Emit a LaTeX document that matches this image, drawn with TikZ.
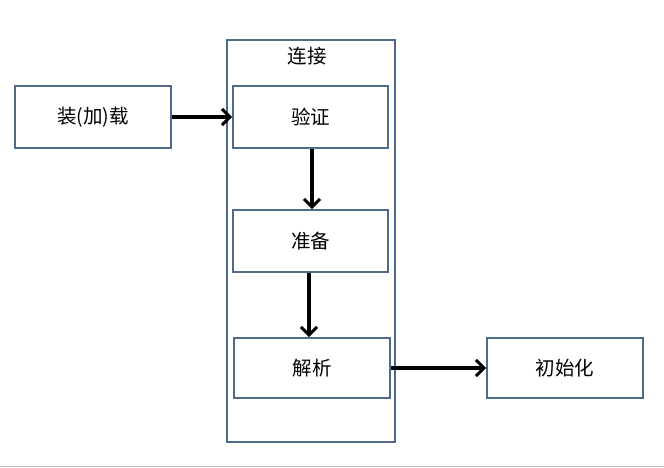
\documentclass[tikz,border=0pt]{standalone}
\usepackage{fontspec}
\setmainfont{Noto Sans CJK SC}
\usetikzlibrary{arrows.meta}
\definecolor{boxline}{HTML}{4F6B8C}
\begin{document}
\begin{tikzpicture}[x=1pt, y=-1pt,
    box/.style={draw=boxline, line width=1.8pt, minimum width=156pt, minimum height=62pt, inner sep=0pt, font=\fontsize{19.5}{22}\selectfont},
    flow/.style={-{Straight Barb[length=8pt, width=16pt, line width=3pt]}, line width=3.4pt}]
  \useasboundingbox (0, 0) rectangle (664, 468);
  \node[draw=boxline, line width=1.8pt, minimum width=168pt, minimum height=402pt] (link) at (311, 241) {};
  \node[font=\fontsize{19.5}{22}\selectfont] (linkname) at (307, 56) {连接};
  \node[box] (load) at (93, 117) {装(加)载};
  \node[box, minimum width=155pt] (verify) at (310.5, 117) {验证};
  \node[box, minimum width=155pt] (prepare) at (310.5, 241) {准备};
  \node[box, minimum height=60pt] (resolve) at (312, 368) {解析};
  \node[box, minimum height=60pt] (init) at (565, 368) {初始化};
  \draw[flow] (load) -- (verify);
  \draw[flow] (verify.south -| 312, 0) -- (prepare.north -| 312, 0);
  \draw[flow] (prepare.south -| 309, 0) -- (resolve.north -| 309, 0);
  \draw[flow] (resolve) -- (init);
  \draw[black!25, line width=1pt] (0, 466) -- (664, 466);
\end{tikzpicture}
\end{document}
